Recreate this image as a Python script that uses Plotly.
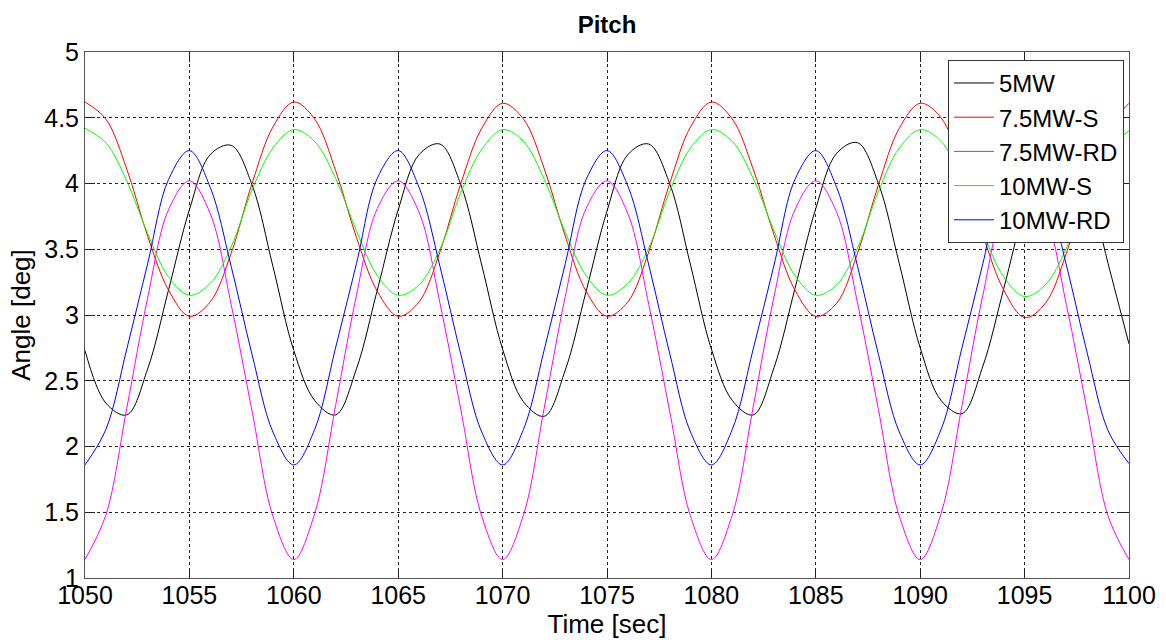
import plotly.graph_objects as go

time_s = list(range(1050, 1101))

mw5 = [2.73, 2.33, 2.24, 2.59, 3.19, 3.80, 4.22, 4.29, 3.99, 3.37,
       2.73, 2.35, 2.24, 2.59, 3.19, 3.80, 4.22, 4.30, 3.99, 3.38,
       2.74, 2.34, 2.23, 2.58, 3.18, 3.79, 4.22, 4.30, 4.00, 3.38,
       2.74, 2.35, 2.24, 2.60, 3.20, 3.81, 4.23, 4.31, 4.00, 3.39,
       2.75, 2.35, 2.25, 2.61, 3.20, 3.81, 4.23, 4.31, 4.00, 3.39,
       2.78]

mw75_s = [4.62, 4.49, 4.11, 3.60, 3.19, 2.99, 3.10, 3.47, 4.00, 4.43,
          4.62, 4.49, 4.10, 3.59, 3.18, 2.99, 3.10, 3.48, 4.00, 4.42,
          4.61, 4.49, 4.11, 3.60, 3.18, 2.99, 3.10, 3.48, 4.00, 4.43,
          4.62, 4.49, 4.11, 3.61, 3.19, 2.99, 3.09, 3.47, 3.99, 4.42,
          4.61, 4.50, 4.12, 3.61, 3.19, 2.98, 3.09, 3.47, 3.99, 4.42,
          4.61]

mw75_rd = [1.14, 1.48, 2.29, 3.13, 3.80, 4.02, 3.77, 3.08, 2.27, 1.47,
           1.14, 1.49, 2.31, 3.15, 3.81, 4.02, 3.78, 3.09, 2.28, 1.47,
           1.14, 1.48, 2.30, 3.14, 3.81, 4.02, 3.77, 3.08, 2.27, 1.47,
           1.14, 1.48, 2.30, 3.14, 3.80, 4.02, 3.78, 3.09, 2.28, 1.47,
           1.14, 1.49, 2.31, 3.15, 3.81, 4.02, 3.77, 3.08, 2.27, 1.47,
           1.14]

mw10_s = [4.42, 4.31, 4.02, 3.62, 3.29, 3.15, 3.24, 3.52, 3.95, 4.27,
          4.41, 4.32, 4.04, 3.64, 3.30, 3.15, 3.23, 3.50, 3.93, 4.26,
          4.41, 4.32, 4.03, 3.63, 3.30, 3.15, 3.24, 3.51, 3.94, 4.27,
          4.41, 4.32, 4.04, 3.64, 3.30, 3.15, 3.23, 3.51, 3.94, 4.27,
          4.41, 4.32, 4.03, 3.63, 3.29, 3.14, 3.23, 3.51, 3.94, 4.26,
          4.40]

mw10_rd = [1.86, 2.13, 2.74, 3.39, 4.03, 4.25, 3.97, 3.37, 2.70, 2.11,
           1.86, 2.13, 2.75, 3.39, 4.04, 4.25, 3.97, 3.37, 2.70, 2.11,
           1.86, 2.13, 2.74, 3.39, 4.03, 4.25, 3.98, 3.38, 2.71, 2.11,
           1.86, 2.13, 2.74, 3.38, 4.03, 4.25, 3.97, 3.37, 2.70, 2.11,
           1.86, 2.13, 2.75, 3.39, 4.04, 4.25, 3.97, 3.38, 2.71, 2.12,
           1.87]

series = [
    ("5MW", mw5, "#000000"),
    ("7.5MW-S", mw75_s, "#ff0000"),
    ("7.5MW-RD", mw75_rd, "#ff00ff"),
    ("10MW-S", mw10_s, "#00ff00"),
    ("10MW-RD", mw10_rd, "#0000ff"),
]

x_ticks = list(range(1050, 1101, 5))
y_ticks = [1, 1.5, 2, 2.5, 3, 3.5, 4, 4.5, 5]

FONT = "Liberation Sans, Arial, sans-serif"

fig = go.Figure()
for name, vals, col in series:
    fig.add_trace(go.Scatter(
        x=time_s, y=vals, name=name, mode="lines",
        line=dict(color=col, width=1, shape="spline", smoothing=1.0),
    ))

axis_common = dict(
    showgrid=True, gridcolor="#222222", griddash="dot", gridwidth=1,
    showline=True, linecolor="#555555", linewidth=1, mirror="ticks",
    ticks="inside", ticklen=10, tickcolor="#222222", tickwidth=1,
    zeroline=False,
    tickfont=dict(family=FONT, size=25, color="black"),
)

fig.update_layout(
    width=1166, height=640,
    margin=dict(l=85, r=37, t=52, b=62),
    paper_bgcolor="white", plot_bgcolor="white",
    title=dict(text="<b>Pitch</b>", x=0.5, xref="paper", xanchor="center",
               y=0.962, yref="container", yanchor="middle",
               font=dict(family=FONT, size=24, color="black")),
    showlegend=True,
    legend=dict(x=0.9952, y=0.985, xanchor="right", yanchor="top",
                bgcolor="white", bordercolor="#333333", borderwidth=1,
                font=dict(family=FONT, size=24, color="black"),
                itemwidth=40, tracegroupgap=0),
)

fig.update_xaxes(range=[1050, 1100], tickvals=x_ticks, ticklabelstandoff=-5,
                 title=dict(text="Time [sec]", standoff=0,
                            font=dict(family=FONT, size=26, color="black")),
                 automargin=False, **axis_common)
fig.update_yaxes(range=[1, 5], tickvals=y_ticks,
                 title=dict(text="Angle [deg]", standoff=6,
                            font=dict(family=FONT, size=26, color="black")),
                 automargin=False, **axis_common)

fig.write_html("out.html")
